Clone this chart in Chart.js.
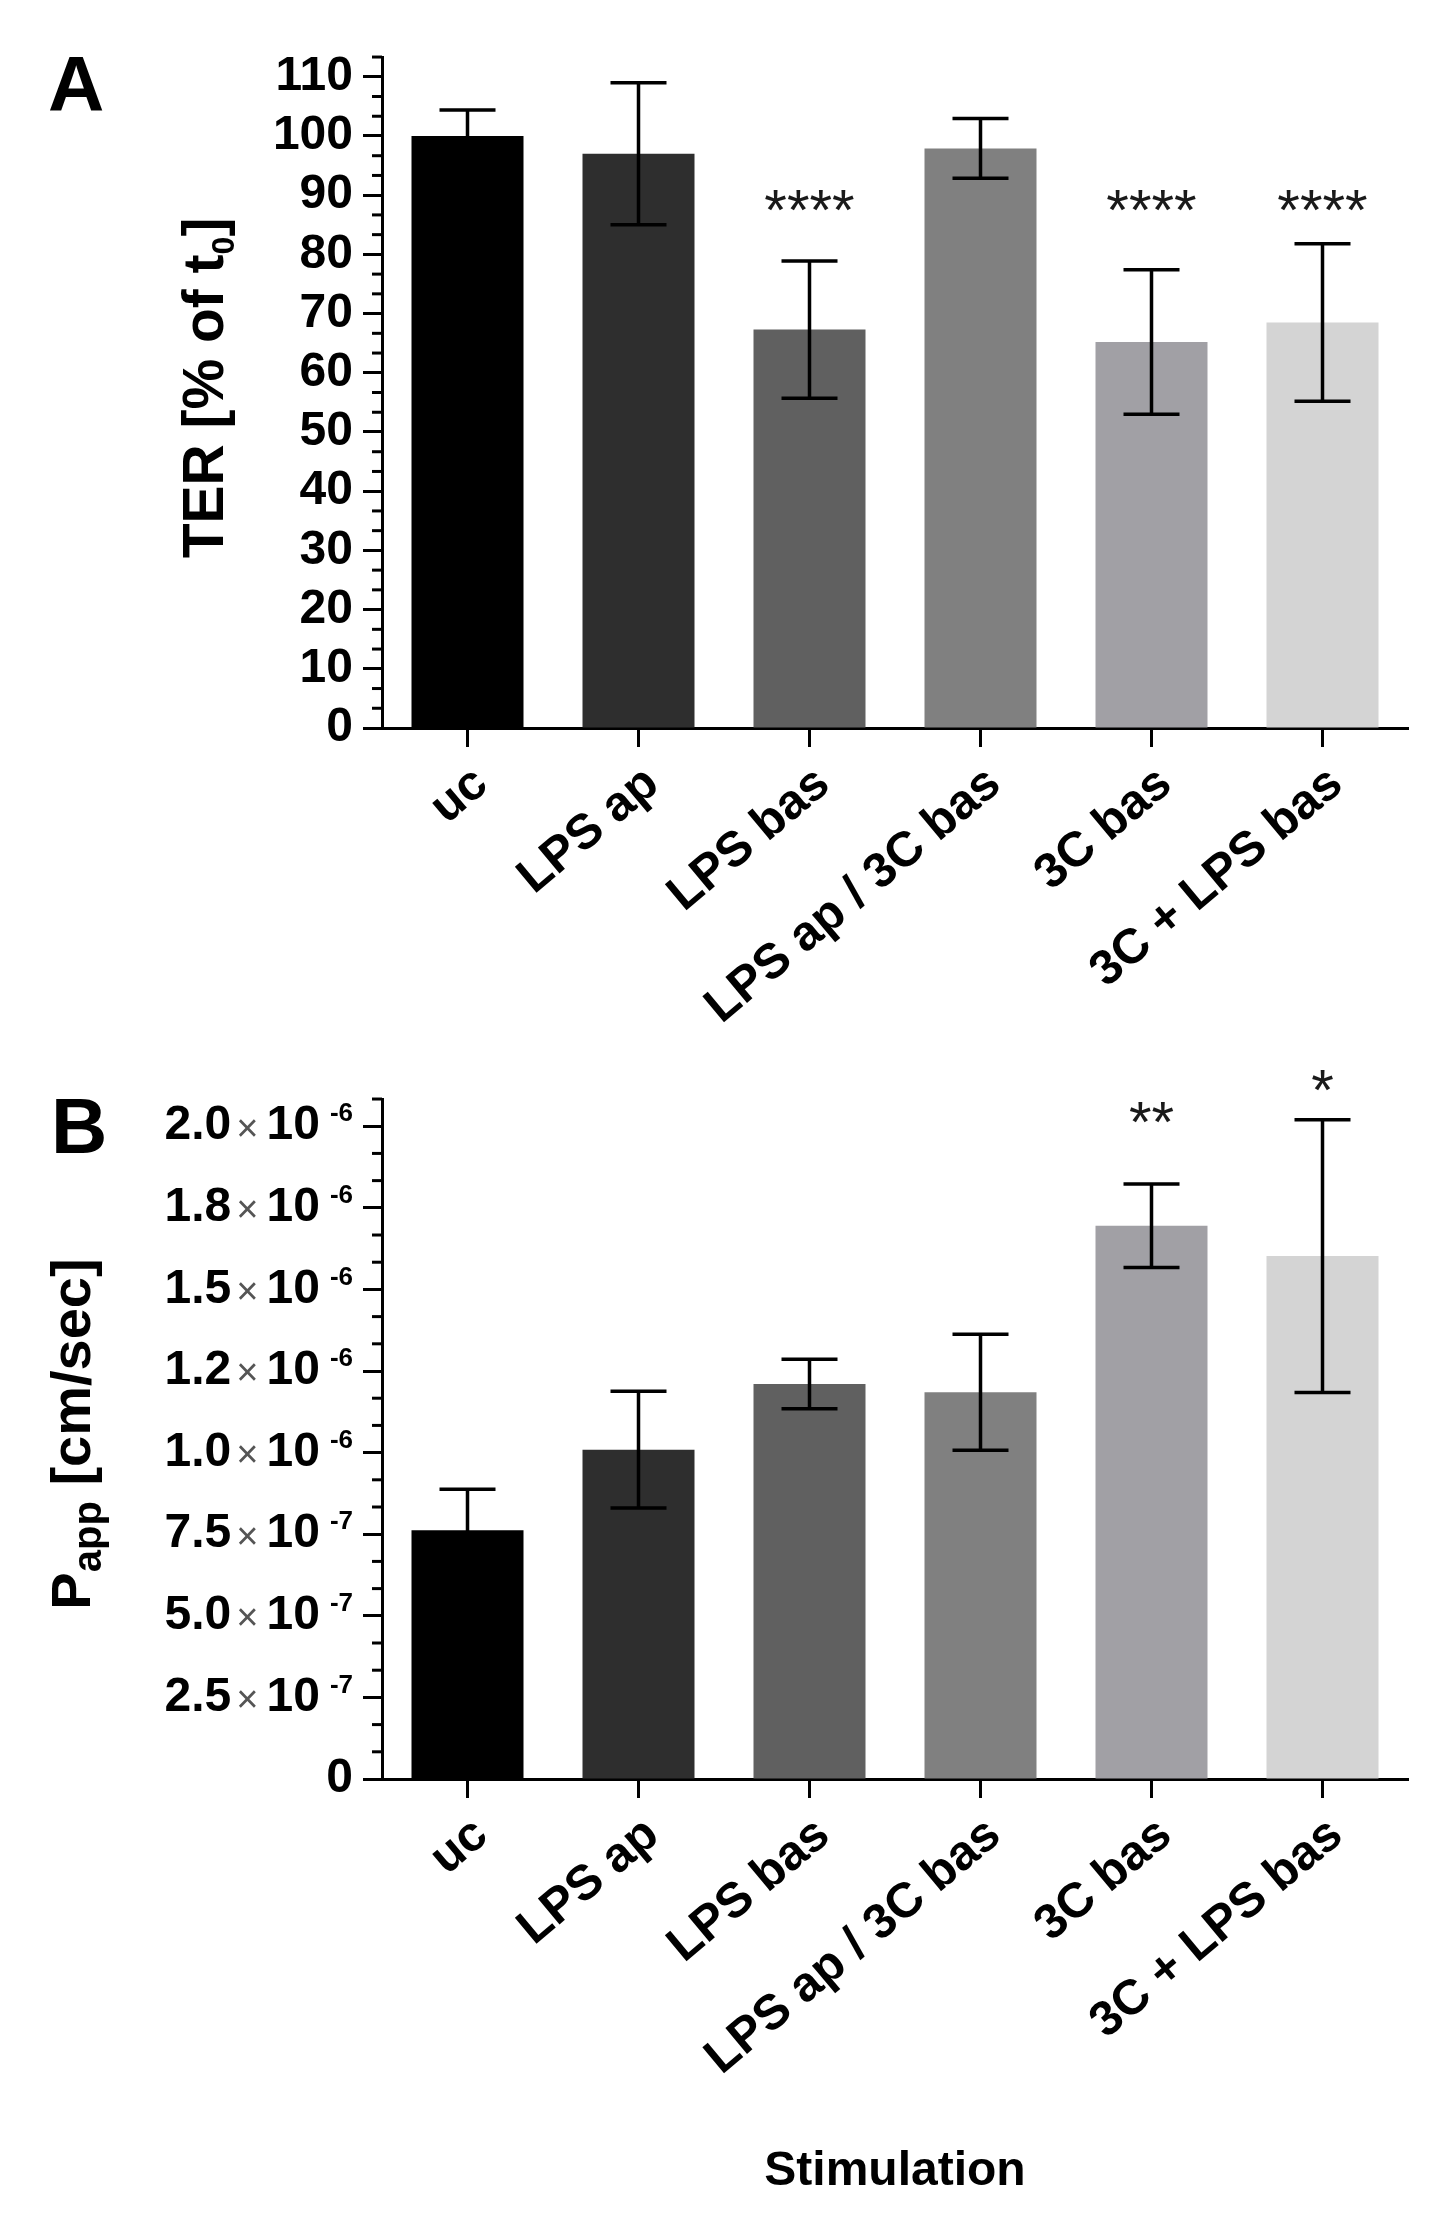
<!DOCTYPE html>
<html>
<head>
<meta charset="utf-8">
<script src="https://cdn.jsdelivr.net/npm/chart.js@4.4.1/dist/chart.umd.min.js"></script>
<style>
    body { margin: 0; background: #fff; }
    .panel { position: absolute; left: 0; width: 1455px; }
    #wrapA { top: 0; height: 1040px; }
    #wrapB { top: 1040px; height: 1197px; }
</style>
</head>
<body>
<div class="panel" id="wrapA"><canvas id="chartTER"></canvas></div>
<div class="panel" id="wrapB"><canvas id="chartPapp"></canvas></div>
<script>
const categorias = ['uc', 'LPS ap', 'LPS bas', 'LPS ap / 3C bas', '3C bas', '3C + LPS bas'];
const colores = ['#000000', '#2e2e2e', '#606060', '#808080', '#a1a0a5', '#d4d4d4'];

const terMedia = [100, 97.0, 67.3, 97.9, 65.2, 68.5];
const terSD = [4.4, 12.0, 11.6, 5.05, 12.2, 13.3];
const terSignif = ['', '', '****', '', '****', '****'];
const terTicks = [0, 10, 20, 30, 40, 50, 60, 70, 80, 90, 100, 110];

const pappMedia = [0.762e-6, 1.009e-6, 1.210e-6, 1.185e-6, 1.695e-6, 1.602e-6];
const pappSD = [0.126e-6, 0.179e-6, 0.076e-6, 0.178e-6, 0.128e-6, 0.418e-6];
const pappSignif = ['', '', '', '', '**', '*'];
const pappTickValores = [0, 2.5e-7, 5.0e-7, 7.5e-7, 1.0e-6, 1.25e-6, 1.5e-6, 1.75e-6, 2.0e-6];
const pappTickMantisa = ['0', '2.5', '5.0', '7.5', '1.0', '1.2', '1.5', '1.8', '2.0'];
const pappTickExp = ['', '-7', '-7', '-7', '-6', '-6', '-6', '-6', '-6'];

const FUENTE = "'Liberation Sans', Arial, sans-serif";

function dibujarTexto(ctx, partes, x, y, rot) {
    // partes: [{t, size, weight, dy}] drawn left to right, centred on (x, y)
    ctx.save();
    ctx.translate(x, y);
    ctx.rotate(rot);
    ctx.textBaseline = 'alphabetic';
    ctx.textAlign = 'left';
    let total = 0;
    partes.forEach(p => {
        ctx.font = `${p.weight || 'bold'} ${p.size}px ${FUENTE}`;
        p.w = ctx.measureText(p.t).width;
        total += p.w;
    });
    let cx = -total / 2;
    partes.forEach(p => {
        ctx.font = `${p.weight || 'bold'} ${p.size}px ${FUENTE}`;
        ctx.fillStyle = '#000';
        ctx.fillText(p.t, cx, p.dy || 0);
        cx += p.w;
    });
    ctx.restore();
}

function pluginPanel(cfg) {
    return {
        id: 'panel' + cfg.letra,
        afterDatasetsDraw(chart) {
            const ctx = chart.ctx;
            const y = chart.scales.y;
            const meta = chart.getDatasetMeta(0);
            const area = chart.chartArea;

            // minor ticks
            ctx.save();
            ctx.strokeStyle = '#000';
            ctx.lineWidth = 3;
            for (let k = 1; k * cfg.paso < cfg.max + 1e-12; k++) {
                if (k % 3 === 0) continue;
                const py = y.getPixelForValue(k * cfg.paso);
                ctx.beginPath();
                ctx.moveTo(area.left - 10, py);
                ctx.lineTo(area.left, py);
                ctx.stroke();
            }
            ctx.restore();

            // error bars
            ctx.save();
            ctx.strokeStyle = '#000';
            ctx.lineWidth = 3.5;
            cfg.media.forEach((m, i) => {
                const x = meta.data[i].x;
                const yt = y.getPixelForValue(m + cfg.sd[i]);
                const yb = y.getPixelForValue(m - cfg.sd[i]);
                ctx.beginPath();
                ctx.moveTo(x, yt);
                ctx.lineTo(x, yb);
                ctx.moveTo(x - 28, yt);
                ctx.lineTo(x + 28, yt);
                ctx.moveTo(x - 28, yb);
                ctx.lineTo(x + 28, yb);
                ctx.stroke();
            });
            ctx.restore();

            // significance stars
            ctx.save();
            ctx.fillStyle = '#1a1a1a';
            ctx.textAlign = 'center';
            ctx.textBaseline = 'alphabetic';
            ctx.font = `58px ${FUENTE}`;
            cfg.signif.forEach((s, i) => {
                if (!s) return;
                const py = y.getPixelForValue(cfg.nivelEstrellas[i]);
                ctx.fillText(s, meta.data[i].x, py + 0.57 * 58);
            });
            ctx.restore();
        },
        afterDraw(chart) {
            const ctx = chart.ctx;
            ctx.save();
            ctx.fillStyle = '#000';
            ctx.font = `bold 78px ${FUENTE}`;
            ctx.textBaseline = 'alphabetic';
            ctx.fillText(cfg.letra, cfg.letraX, cfg.letraY);
            ctx.restore();
            dibujarTexto(ctx, cfg.titulo, cfg.tituloX, cfg.tituloY, -Math.PI / 2);
            if (cfg.etiquetas) cfg.etiquetas(chart);
        }
    };
}

function etiquetasPapp(chart) {
    const ctx = chart.ctx;
    const y = chart.scales.y;
    const derecha = chart.chartArea.left - 29;
    ctx.save();
    ctx.textBaseline = 'middle';
    ctx.textAlign = 'right';
    pappTickValores.forEach((v, i) => {
        const py = y.getPixelForValue(v);
        ctx.fillStyle = '#000';
        if (!pappTickExp[i]) {
            ctx.font = `bold 48px ${FUENTE}`;
            ctx.fillText(pappTickMantisa[i], derecha, py);
            return;
        }
        let x = derecha;
        ctx.font = `bold 26px ${FUENTE}`;
        ctx.fillText(pappTickExp[i], x, py - 12);
        x -= ctx.measureText(pappTickExp[i]).width + 10;
        ctx.font = `bold 48px ${FUENTE}`;
        ctx.fillText('10', x, py);
        x -= ctx.measureText('10').width + 8;
        ctx.fillStyle = '#555';
        ctx.font = `38px ${FUENTE}`;
        ctx.fillText('\u00d7', x, py + 4);
        x -= ctx.measureText('\u00d7').width + 5;
        ctx.fillStyle = '#000';
        ctx.font = `bold 48px ${FUENTE}`;
        ctx.fillText(pappTickMantisa[i], x, py);
    });
    ctx.restore();
}

function opcionesEjes(yCfg, alturaX, tituloX) {
    return {
        x: {
            afterFit: s => { s.height = alturaX; },
            grid: {
                offset: false,
                drawOnChartArea: false,
                drawTicks: true,
                tickLength: 19,
                tickWidth: 3,
                tickColor: '#000'
            },
            border: { display: true, color: '#000', width: 3 },
            ticks: {
                autoSkip: false,
                maxRotation: 40,
                minRotation: 40,
                padding: 8,
                labelOffset: 14,
                color: '#000',
                font: { family: FUENTE, size: 49, weight: 'bold' }
            },
            title: tituloX
        },
        y: Object.assign({
            min: 0,
            afterFit: s => { s.width = 382; },
            grid: {
                drawOnChartArea: false,
                drawTicks: true,
                tickLength: 19,
                tickWidth: 3,
                tickColor: '#000'
            },
            border: { display: true, color: '#000', width: 3 }
        }, yCfg)
    };
}

function renderPanel(canvasId, media, paddingTop, ejes, plugin) {
    const canvas = document.getElementById(canvasId);
    return new Chart(canvas, {
        type: 'bar',
        data: {
            labels: categorias,
            datasets: [{
                data: media,
                backgroundColor: colores,
                borderWidth: 0,
                barPercentage: 0.655,
                categoryPercentage: 1
            }]
        },
        options: {
            responsive: true,
            maintainAspectRatio: false,
            animation: false,
            layout: { padding: { top: paddingTop, right: 47, left: 0, bottom: 0 } },
            plugins: { legend: { display: false }, tooltip: { enabled: false } },
            scales: ejes
        },
        plugins: [plugin]
    });
}

renderPanel('chartTER', terMedia, 57,
    opcionesEjes({
        max: 113.34,
        ticks: {
            stepSize: 10,
            includeBounds: false,
            padding: 10,
            color: '#000',
            font: { family: FUENTE, size: 48, weight: 'bold' },
            callback: v => terTicks.includes(v) ? String(v) : ''
        }
    }, 312, { display: false }),
    pluginPanel({
        letra: 'A', letraX: 48, letraY: 111,
        paso: 10 / 3, max: 113.34,
        media: terMedia, sd: terSD, signif: terSignif,
        nivelEstrellas: [0, 0, 89.7, 0, 89.7, 89.7],
        tituloX: 223, tituloY: 388,
        titulo: [
            { t: 'TER [% of t', size: 57 },
            { t: '0', size: 32, dy: 11 },
            { t: ']', size: 57 }
        ]
    })
);

renderPanel('chartPapp', pappMedia, 59,
    opcionesEjes({
        max: 2.0834e-6,
        ticks: {
            stepSize: 2.5e-7,
            includeBounds: false,
            padding: 10,
            callback: () => ''
        }
    }, 458, {
        display: true,
        text: 'Stimulation',
        color: '#000',
        font: { family: FUENTE, size: 48, weight: 'bold' },
        padding: { top: 0, bottom: 36 }
    }),
    pluginPanel({
        letra: 'B', letraX: 51, letraY: 113,
        paso: 2.5e-7 / 3, max: 2.0834e-6,
        media: pappMedia, sd: pappSD, signif: pappSignif,
        nivelEstrellas: [0, 0, 0, 0, 2.053e-6, 2.151e-6],
        tituloX: 90, tituloY: 394,
        titulo: [
            { t: 'P', size: 56 },
            { t: 'app', size: 40, dy: 11 },
            { t: ' [cm/sec]', size: 56 }
        ],
        etiquetas: etiquetasPapp
    })
);
</script>
</body>
</html>
